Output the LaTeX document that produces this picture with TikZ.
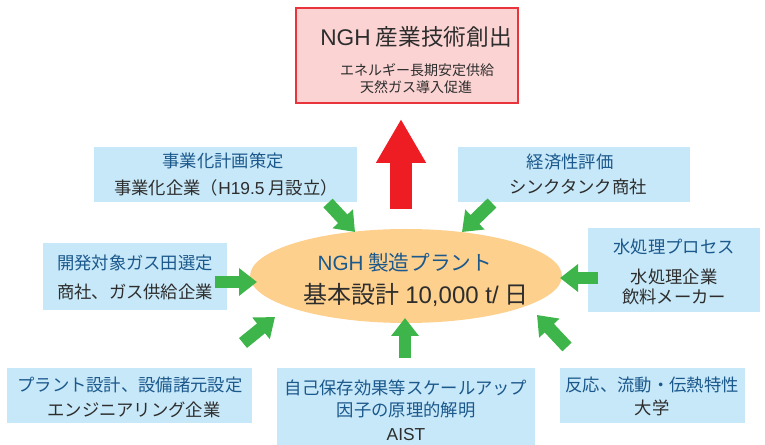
\documentclass[tikz,border=0pt]{standalone}
\usepackage{fontspec}
\setmainfont{Noto Sans CJK JP}
\newfontfamily\latf{Liberation Sans}
\usetikzlibrary{shapes.geometric,arrows.meta}
\definecolor{boxfill}{RGB}{199,232,248}
\definecolor{headblue}{RGB}{27,88,140}
\definecolor{textgray}{RGB}{45,45,45}
\definecolor{ellfill}{RGB}{253,208,142}
\definecolor{topfill}{RGB}{251,211,211}
\definecolor{topborder}{RGB}{232,52,58}
\definecolor{redarrow}{RGB}{238,29,35}
\definecolor{greenarrow}{RGB}{61,181,74}
\tikzset{
  infobox/.style={fill=boxfill, draw=none, inner sep=0pt},
  headtxt/.style={text=headblue, font=\fontsize{13}{15}\selectfont, inner sep=0pt},
  subtxt/.style={text=textgray, font=\fontsize{13}{15}\selectfont, inner sep=0pt},
  garrow/.style={draw=greenarrow, line width=9.5pt, -{Triangle[length=13.5pt,width=20pt]}},
  rarrow/.style={draw=redarrow, line width=16.5pt, -{Triangle[length=33pt,width=35.25pt]}},
}
\begin{document}
\begin{tikzpicture}[x=0.75pt,y=-0.75pt]
\useasboundingbox (0,0) rectangle (765,445);
% top box
\node[fill=topfill, draw=topborder, line width=1.5pt, minimum width=222pt*0.75, minimum height=95pt*0.75, inner sep=0pt] (top) at (406.5,55.5) {};
\node[text=textgray, font=\fontsize{17}{20}\selectfont, inner sep=0pt] (toptitle) at (416,37) {{\latf NGH} 産業技術創出};
\node[text=textgray, font=\fontsize{10.5}{12}\selectfont, inner sep=0pt] (topl2) at (417,70) {エネルギー長期安定供給};
\node[text=textgray, font=\fontsize{10.5}{12}\selectfont, inner sep=0pt] (topl3) at (416,87) {天然ガス導入促進};
% red arrow
\coordinate (rtail) at (401,209);
\coordinate (rtip) at (401,119);
\draw[rarrow] (rtail) -- (rtip);
% ellipse
\node[ellipse, fill=ellfill, draw=none, minimum width=234pt, minimum height=70.5pt, inner sep=0pt] (ell) at (406,276) {};
\node[text=headblue, font=\fontsize{15.5}{18}\selectfont, inner sep=0pt] (elll1) at (405,263) {{\latf NGH} 製造プラント};
\node[text=textgray, font=\fontsize{18}{21}\selectfont, inner sep=0pt] (elll2) at (416,295) {基本設計 {\latf 10,000 t/} 日};
% box 1
\node[infobox, minimum width=263pt*0.75, minimum height=55pt*0.75] (b1) at (225.5,174.5) {};
\node[headtxt] (b1a) at (223,161) {事業化計画策定};
\node[subtxt] (b1b) at (226,188) {事業化企業（{\latf H19.5} 月設立）};
% box 2
\node[infobox, minimum width=232pt*0.75, minimum height=55pt*0.75] (b2) at (574,174.5) {};
\node[headtxt] (b2a) at (570,162) {経済性評価};
\node[subtxt] (b2b) at (578,187) {シンクタンク商社};
% box 3
\node[infobox, minimum width=184pt*0.75, minimum height=67pt*0.75] (b3) at (135,276.5) {};
\node[headtxt] (b3a) at (135,263) {開発対象ガス田選定};
\node[subtxt] (b3b) at (135,292) {商社、ガス供給企業};
% box 4
\node[infobox, minimum width=172pt*0.75, minimum height=84pt*0.75] (b4) at (674,270) {};
\node[headtxt] (b4a) at (674,247) {水処理プロセス};
\node[subtxt] (b4b) at (674,277) {水処理企業};
\node[subtxt] (b4c) at (674,297) {飲料メーカー};
% box 5
\node[infobox, minimum width=245pt*0.75, minimum height=55pt*0.75] (b5) at (129.5,395.5) {};
\node[headtxt] (b5a) at (130,385) {プラント設計、設備諸元設定};
\node[subtxt] (b5b) at (134,410) {エンジニアリング企業};
% box 6
\node[infobox, minimum width=258pt*0.75, minimum height=77pt*0.75] (b6) at (406,406.5) {};
\node[headtxt] (b6a) at (406,388) {自己保存効果等スケールアップ};
\node[headtxt] (b6b) at (406,410) {因子の原理的解明};
\node[subtxt] (b6c) at (406,435) {\latf AIST};
% box 7
\node[infobox, minimum width=185pt*0.75, minimum height=55pt*0.75] (b7) at (652.5,395.5) {};
\node[headtxt] (b7a) at (652,385) {反応、流動・伝熱特性};
\node[subtxt] (b7b) at (652,408) {大学};
% green arrows
\coordinate (g1t) at (328,203); \coordinate (g1h) at (355,232);
\coordinate (g2t) at (492,203); \coordinate (g2h) at (462,232);
\coordinate (g3t) at (215,282); \coordinate (g3h) at (257,282);
\coordinate (g4t) at (598,278); \coordinate (g4h) at (560,278);
\coordinate (g5t) at (243,343); \coordinate (g5h) at (275,317);
\coordinate (g6t) at (405,358); \coordinate (g6h) at (405,318);
\coordinate (g7t) at (567,347); \coordinate (g7h) at (537,315);
\draw[garrow] (g1t) -- (g1h);
\draw[garrow] (g2t) -- (g2h);
\draw[garrow] (g3t) -- (g3h);
\draw[garrow] (g4t) -- (g4h);
\draw[garrow] (g5t) -- (g5h);
\draw[garrow] (g6t) -- (g6h);
\draw[garrow] (g7t) -- (g7h);
\end{tikzpicture}
\end{document}
